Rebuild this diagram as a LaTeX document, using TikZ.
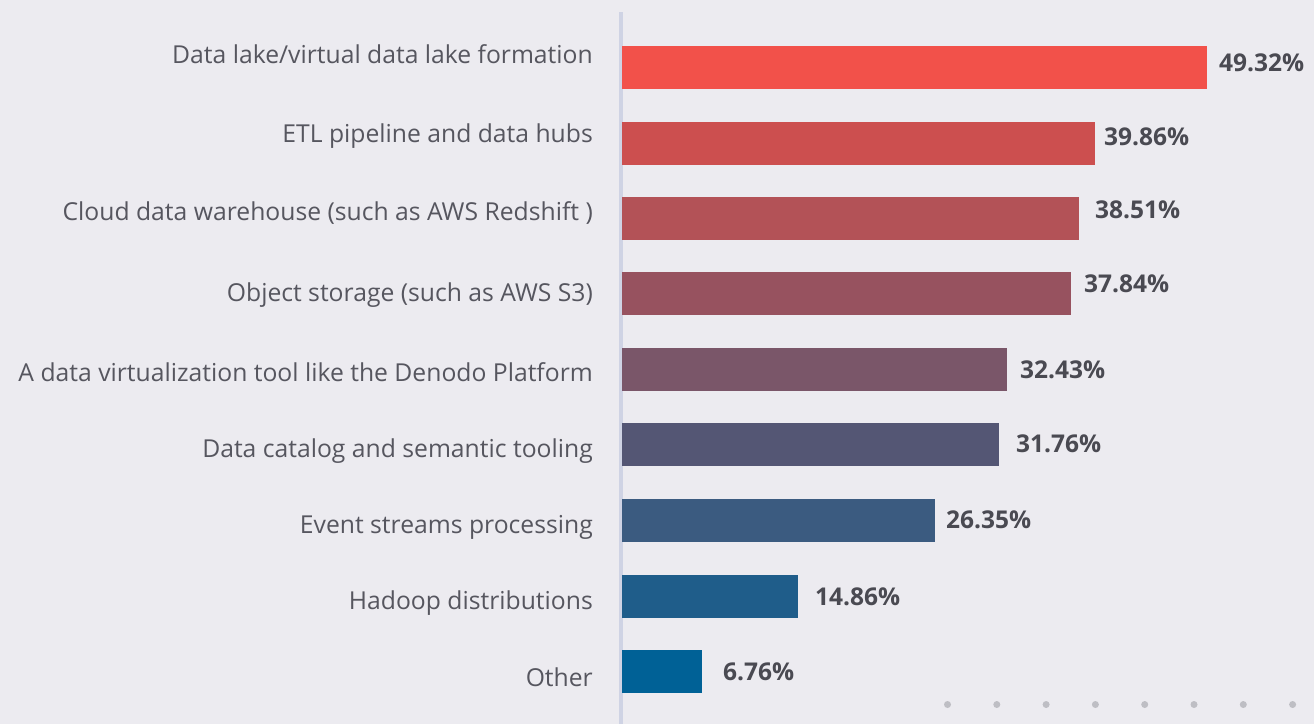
\documentclass[tikz,border=0pt]{standalone}
\usepackage{fontspec}
\setmainfont{Open Sans}
\definecolor{bg}{HTML}{ECEBF0}
\definecolor{axisc}{HTML}{CFD3E4}
\definecolor{lbl}{HTML}{56565F}
\definecolor{val}{HTML}{4A4A52}
\definecolor{dotc}{HTML}{BEBEC4}
\definecolor{c1}{HTML}{F2514A}
\definecolor{c2}{HTML}{CC4F4F}
\definecolor{c3}{HTML}{B35257}
\definecolor{c4}{HTML}{97525F}
\definecolor{c5}{HTML}{7A5669}
\definecolor{c6}{HTML}{545674}
\definecolor{c7}{HTML}{3B5B80}
\definecolor{c8}{HTML}{1F5D8A}
\definecolor{c9}{HTML}{006196}
\tikzset{
  catlabel/.style={anchor=base east, inner sep=0pt, text=lbl, font=\fontsize{24.7}{28}\selectfont},
  vallabel/.style={anchor=base west, inner sep=0pt, text=val, font=\fontsize{24.5}{28}\selectfont\bfseries},
  barbox/.style={inner sep=0pt, outer sep=0pt, anchor=south west, minimum height=43pt},
  dotmark/.style={circle, fill=dotc, inner sep=0pt, minimum size=7pt},
}
\begin{document}
\begin{tikzpicture}[x=1pt,y=-1pt]
\fill[bg] (0,0) rectangle (1314,724);
\useasboundingbox (0,0) rectangle (1314,724);
\fill[axisc] (618.5,12) rectangle (623,724);
\def\sc{11.86}
\foreach \i/\v/\top/\col/\ly/\vx/\vy/\txt in {
  1/49.32/46/c1/63.3/1219/71.7/{Data lake/virtual data lake formation},
  2/39.86/122/c2/142.3/1104/145/{ETL pipeline and data hubs},
  3/38.51/197/c3/220/1095/218/{Cloud data warehouse (such as AWS Redshift )},
  4/37.84/272/c4/301.7/1084/292/{Object storage (such as AWS S3)},
  5/32.43/348/c5/381.7/1020/378/{A data virtualization tool like the Denodo Platform},
  6/31.76/423/c6/457.7/1016/452.7/{Data catalog and semantic tooling},
  7/26.35/499/c7/533.3/946/528/{Event streams processing},
  8/14.86/575/c8/609.3/815/605/{Hadoop distributions},
  9/6.76/650/c9/686/723/680/{Other}}{
  \node[barbox, fill=\col, minimum width={\v*\sc*1pt}] (bar\i) at (622,\top+43) {};
  \node[catlabel] (lab\i) at (593,\ly) {\txt};
  \node[vallabel] (val\i) at (\vx,\vy) {\v\%};
}
\foreach \k in {0,...,7}{
  \node[dotmark] (dot\k) at ({947.5+\k*49.3},704.5) {};
}
\end{tikzpicture}
\end{document}
